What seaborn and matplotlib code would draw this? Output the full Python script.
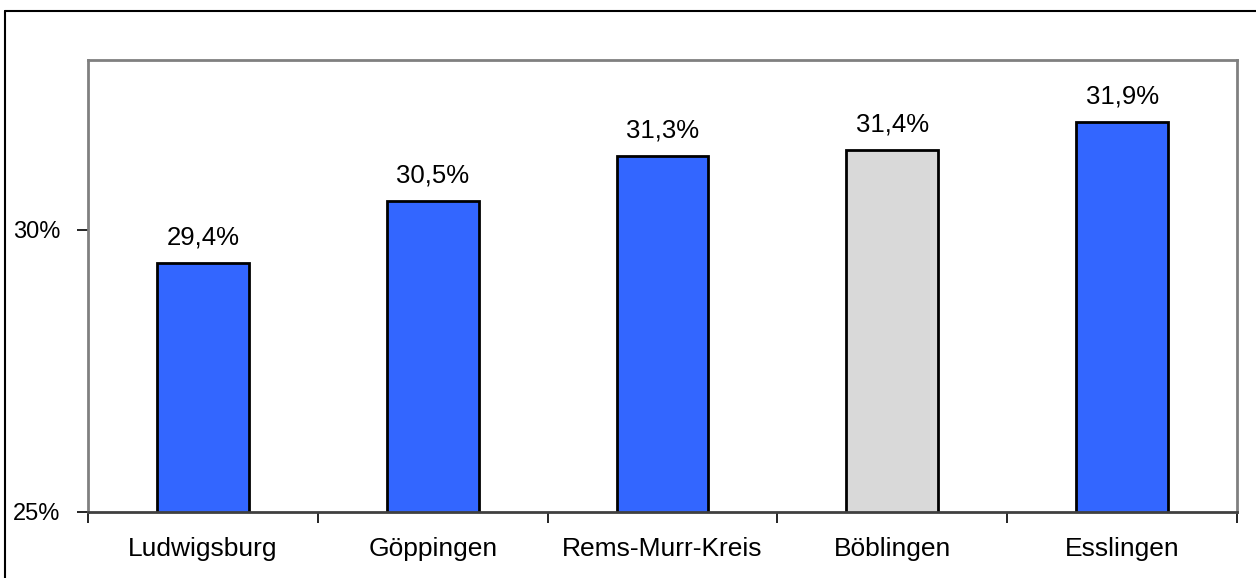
import matplotlib
matplotlib.use("Agg")
import matplotlib.pyplot as plt
from matplotlib.lines import Line2D
from matplotlib.ticker import FixedLocator
import pandas as pd
import seaborn as sns

# Data
kreise = ["Ludwigsburg", "Göppingen", "Rems-Murr-Kreis", "Böblingen", "Esslingen"]
anteil = [29.4, 30.5, 31.3, 31.4, 31.9]
farben = ["#3366FF", "#3366FF", "#3366FF", "#D9D9D9", "#3366FF"]
y_ticks = [25, 30]

sns.set_theme(style="white")
plt.rcParams["font.family"] = ["Liberation Sans", "DejaVu Sans"]
plt.rcParams.update({"text.color": "black", "xtick.color": "black", "ytick.color": "black"})

df = pd.DataFrame({"kreis": kreise, "anteil": anteil})

fig = plt.figure(figsize=(12.56, 5.78), dpi=100)
ax = fig.add_axes([88 / 1256, 1 - 512 / 578, (1237 - 88) / 1256, (512 - 60) / 578])

sns.barplot(
    data=df, x="kreis", y="anteil", hue="kreis", palette=farben, legend=False,
    width=0.4, edgecolor="black", linewidth=2, ax=ax, saturation=1,
)

ax.set_ylim(25, 33)
ax.set_xlim(-0.5, len(kreise) - 0.5)
ax.set_yticks(y_ticks)
ax.set_yticklabels([f"{t}%" for t in y_ticks], fontsize=17, color="black")
ax.set_xticks(range(len(kreise)))
ax.set_xticklabels(kreise, fontsize=19, color="black")
ax.xaxis.set_minor_locator(FixedLocator([i - 0.5 for i in range(len(kreise) + 1)]))
ax.tick_params(axis="x", which="major", length=0, pad=18)
ax.tick_params(axis="x", which="minor", length=8, width=1.2, color="black", direction="out", bottom=True)
ax.tick_params(axis="y", length=8, width=1.2, color="black", direction="out", pad=12, left=True)
ax.set_xlabel("")
ax.set_ylabel("")

for name, sp in ax.spines.items():
    sp.set_color("#808080")
    sp.set_linewidth(2)
ax.spines["bottom"].set_color("#404040")

for cont in ax.containers:
    ax.bar_label(cont, labels=[f"{v:.1f}%".replace(".", ",") for v in cont.datavalues],
                 padding=10, fontsize=18.5, color="black")

# outer chart frame (cut off at right and bottom in the reference)
fig.add_artist(Line2D([4.5 / 1256, 4.5 / 1256], [0, 1 - 10.5 / 578], transform=fig.transFigure,
                      color="black", linewidth=1.5))
fig.add_artist(Line2D([4.5 / 1256, 1], [1 - 10.5 / 578, 1 - 10.5 / 578], transform=fig.transFigure,
                      color="black", linewidth=1.5))

fig.savefig("out.png", dpi=100)
